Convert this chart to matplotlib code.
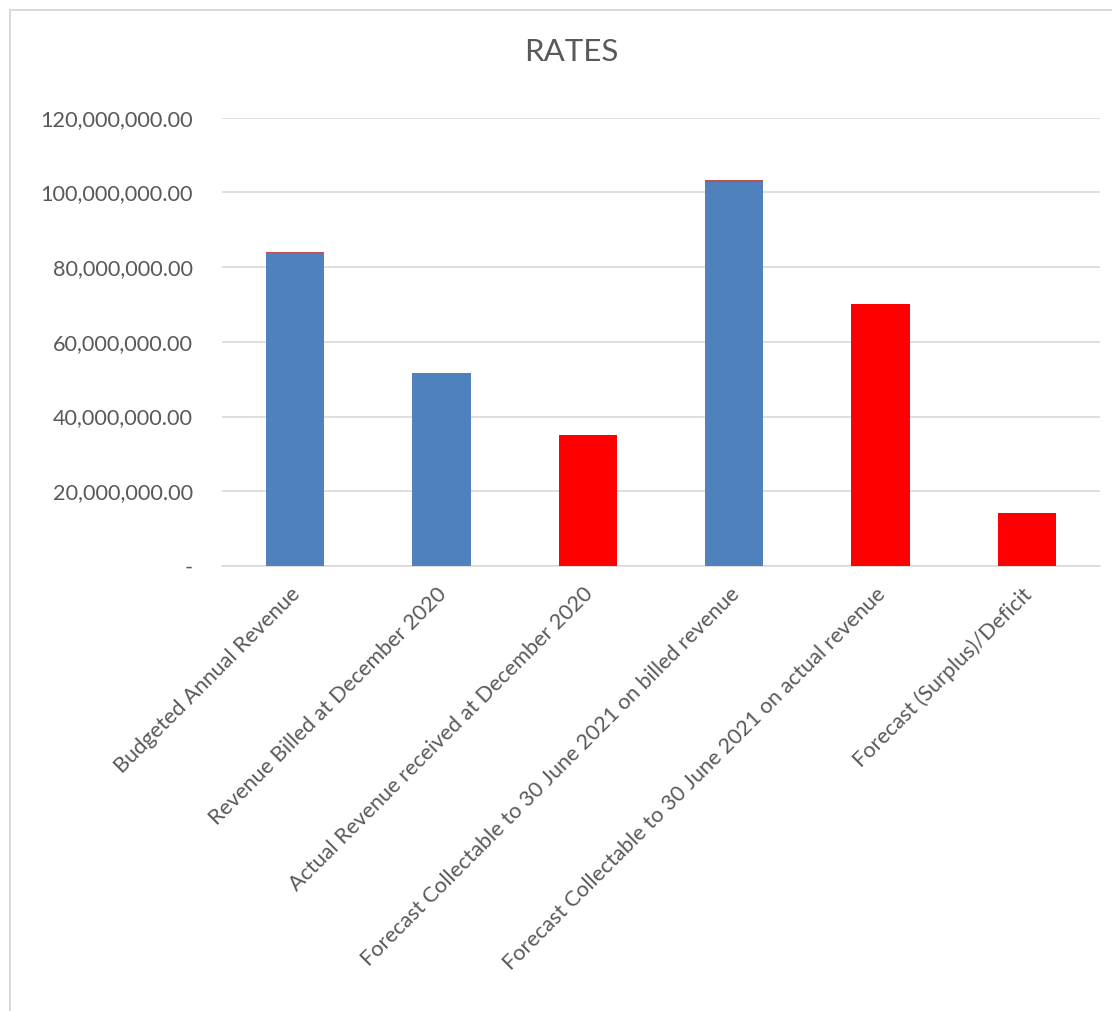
import matplotlib
matplotlib.use("Agg")
import matplotlib.pyplot as plt
from matplotlib.lines import Line2D
from matplotlib.ticker import FuncFormatter
from matplotlib.transforms import ScaledTranslation

categories = [
    "Budgeted Annual Revenue",
    "Revenue Billed at December 2020",
    "Actual Revenue received at December 2020",
    "Forecast Collectable to 30 June 2021 on billed revenue",
    "Forecast Collectable to 30 June 2021 on actual revenue",
    "Forecast (Surplus)/Deficit",
]
base_values = [83700000, 51600000, 35000000, 102900000, 70050000, 14200000]
top_values = [300000, 0, 0, 300000, 0, 0]
bar_colors = ["#4F81BD", "#4F81BD", "#FF0000", "#4F81BD", "#FF0000", "#FF0000"]
top_color = "#C0504D"
yticks = [0, 20000000, 40000000, 60000000, 80000000, 100000000, 120000000]

plt.rcParams['font.family'] = ['Lato', 'DejaVu Sans']
text_color = "#595959"
grid_color = "#D9D9D9"

fig = plt.figure(figsize=(11.12, 10.11), dpi=100)
ax = fig.add_axes([222/1112, 1-566/1011, (1100-222)/1112, (566-117.7)/1011])

x = list(range(len(categories)))
ax.bar(x, base_values, width=0.40, color=bar_colors, zorder=3)
ax.bar(x, top_values, width=0.40, bottom=base_values, color=top_color, zorder=3)

ax.set_xlim(-0.5, len(categories) - 0.5)
ax.set_ylim(0, 120000000)
ax.set_yticks(yticks)

def fmt(v, pos):
    if v == 0:
        return "-"
    return f"{v:,.2f}"

ax.yaxis.set_major_formatter(FuncFormatter(fmt))
ax.grid(axis='y', color=grid_color, linewidth=1.2, zorder=0)
for s in ['top', 'right', 'left']:
    ax.spines[s].set_visible(False)
ax.spines['bottom'].set_color(grid_color)
ax.spines['bottom'].set_linewidth(1.2)
ax.tick_params(axis='both', length=0, colors=text_color, labelsize=15.6)
ax.tick_params(axis='y', pad=21)
ax.set_xticks(x)
ax.set_xticklabels(categories, rotation=45, ha='right', rotation_mode='anchor')
ax.tick_params(axis='x', pad=13)
offset = ScaledTranslation(-5/100, 0, fig.dpi_scale_trans)
for lbl in ax.get_xticklabels():
    lbl.set_transform(lbl.get_transform() + offset)

fig.text(571/1112, 1-52/1011, "RATES", ha='center', va='center', fontsize=22.5, color=text_color)

fig.add_artist(Line2D([10/1112, 1], [1-10/1011, 1-10/1011], transform=fig.transFigure, color=grid_color, linewidth=1.5))
fig.add_artist(Line2D([10/1112, 10/1112], [0, 1-10/1011], transform=fig.transFigure, color=grid_color, linewidth=1.5))

fig.savefig("out.png", dpi=100)
